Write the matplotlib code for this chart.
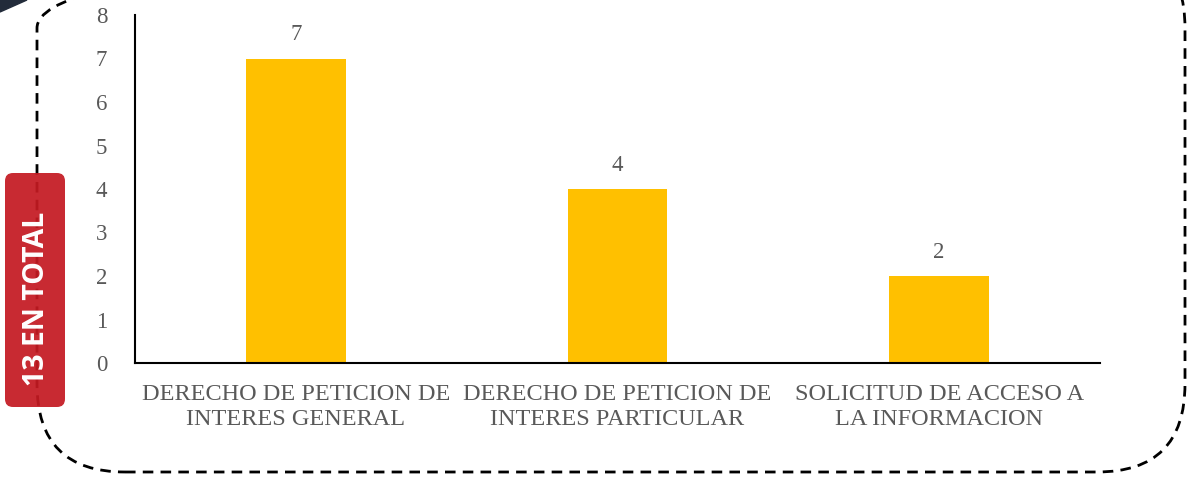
import matplotlib
matplotlib.use('Agg')
import matplotlib.pyplot as plt
from matplotlib.patches import FancyBboxPatch, Polygon

# data
categories = ["DERECHO DE PETICION DE\nINTERES GENERAL",
              "DERECHO DE PETICION DE\nINTERES PARTICULAR",
              "SOLICITUD DE ACCESO A\nLA INFORMACION"]
values = [7, 4, 2]
total_label = "13 EN TOTAL"

gray = '#595959'
plt.rcParams['font.family'] = ['Liberation Serif', 'DejaVu Serif']

fig = plt.figure(figsize=(11.89, 4.79), dpi=100)
ax = fig.add_axes([135/1189, 116/479, 965/1189, 348/479])

x = list(range(len(categories)))
ax.bar(x, values, width=0.31, color='#FFC000', zorder=2)
for xi, v in zip(x, values):
    ax.text(xi, v + 0.3, str(v), ha='center', va='bottom', fontsize=16.5, color=gray)

ax.set_xlim(-0.5, 2.5)
ax.set_ylim(0, 8)
ax.set_yticks(range(0, 9))
ax.set_xticks(x)
ax.set_xticklabels(categories, fontsize=17.5, color=gray, linespacing=1.25)
ax.tick_params(axis='y', length=0, labelsize=16.5, labelcolor=gray, pad=20)
ax.tick_params(axis='x', length=0, labelcolor=gray, pad=15)
for s in ['top', 'right']:
    ax.spines[s].set_visible(False)
for s in ['left', 'bottom']:
    ax.spines[s].set_linewidth(1.5)
    ax.spines[s].set_color('black')

# dashed rounded border (inches)
border = FancyBboxPatch((0.37, 0.07), 11.48, 5.32,
                        boxstyle="round,pad=0,rounding_size=0.88",
                        transform=fig.dpi_scale_trans, fill=False,
                        edgecolor='black', linewidth=2, linestyle=(0, (3.8, 2.6)),
                        zorder=1)
fig.add_artist(border)

# dark corner wedge
fig.add_artist(Polygon([(0, 4.79), (0.27, 4.79), (0, 4.67)], closed=True,
                       transform=fig.dpi_scale_trans, color='#222B3A'))

# red total label
box = FancyBboxPatch((0.05, 0.72), 0.60, 2.34,
                     boxstyle="round,pad=0,rounding_size=0.08",
                     transform=fig.dpi_scale_trans, facecolor='#C41A22',
                     edgecolor='none', alpha=0.93, zorder=3)
fig.add_artist(box)
fig.text(0.37, 1.80, total_label, transform=fig.dpi_scale_trans, rotation=90,
         ha='center', va='center', color='white', fontsize=20.5, fontweight='bold',
         family=['Open Sans', 'DejaVu Sans'], zorder=4)

fig.savefig('out.png', dpi=100)
